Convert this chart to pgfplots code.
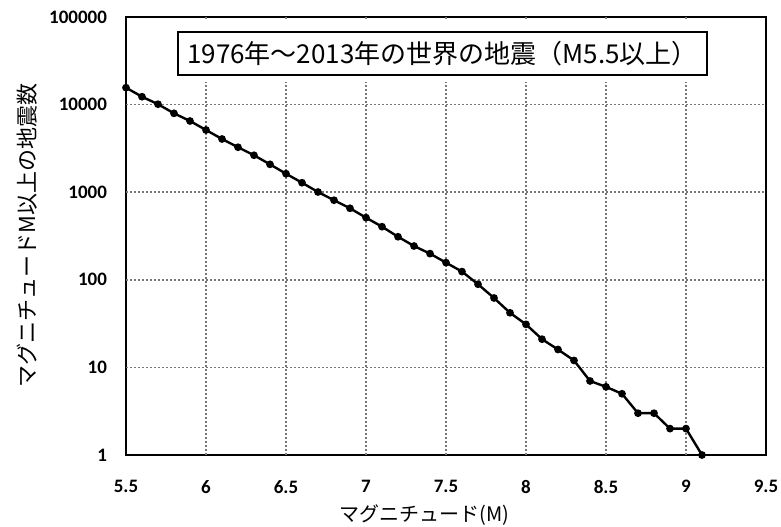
\documentclass[border=0pt]{standalone}
\usepackage{fontspec}
\setmainfont{Carlito}
\newfontfamily\jp{Noto Sans CJK JP}
\usepackage{pgfplots}
\pgfplotsset{compat=1.18}
\definecolor{gridc}{RGB}{120,120,120}
\tikzset{mygrid/.style={draw=gridc, dash pattern=on 1pt off 1pt, line width=0.8pt}}
\begin{document}
\begin{tikzpicture}
\begin{axis}[name=ax,
  scale only axis, width=320pt, height=219pt,
  xmin=5.5, xmax=9.5, ymode=log, log basis y=10, ymin=1, ymax=100000,
  xtick={5.5,6,6.5,7,7.5,8,8.5,9,9.5},
  xticklabels={5.5,6,6.5,7,7.5,8,8.5,9,9.5},
  ytick={1,10,100,1000,10000,100000},
  yticklabels={1,10,100,1000,10000,100000},
  xtick style={draw=none}, ytick style={draw=none},
  tick label style={font=\fontsize{9.5}{11}\selectfont\bfseries},
  xticklabel style={yshift=-9pt},
  yticklabel style={xshift=-6pt},
  axis line style={black, line width=1pt},
  xlabel={マグニチュード(M)},
  ylabel={マグニチュードM以上の地震数},
  xlabel style={font=\jp\fontsize{10}{12}\selectfont, at={(rel axis cs:0.467,0)}, anchor=center, yshift=-30pt},
  ylabel style={font=\jp\fontsize{11}{13}\selectfont, at={(rel axis cs:0,0.502)}, anchor=center, yshift=49.5pt},
  clip=false,
]
\draw[mygrid] (axis cs:6,1) -- (axis cs:6,100000);
\draw[mygrid] (axis cs:6.5,1) -- (axis cs:6.5,100000);
\draw[mygrid] (axis cs:7,1) -- (axis cs:7,100000);
\draw[mygrid] (axis cs:7.5,1) -- (axis cs:7.5,100000);
\draw[mygrid] (axis cs:8,1) -- (axis cs:8,100000);
\draw[mygrid] (axis cs:8.5,1) -- (axis cs:8.5,100000);
\draw[mygrid] (axis cs:9,1) -- (axis cs:9,100000);
\draw[mygrid] (axis cs:5.5,10) -- (axis cs:9.5,10);
\draw[mygrid] (axis cs:5.5,100) -- (axis cs:9.5,100);
\draw[mygrid] (axis cs:5.5,1000) -- (axis cs:9.5,1000);
\draw[mygrid] (axis cs:5.5,10000) -- (axis cs:9.5,10000);
\node[fill=white, draw=none, minimum width=271pt, minimum height=31.75pt, inner sep=0pt] at (rel axis cs:0.495,0.924) {};
\addplot[black, line width=1.2pt, mark=*, mark size=1.3pt, mark options={solid, fill=black}] coordinates {
(5.5,15600) (5.6,12300) (5.7,10100) (5.8,7950) (5.9,6500) (6.0,5130)
(6.1,4050) (6.2,3260) (6.3,2640) (6.4,2080) (6.5,1625) (6.6,1283)
(6.7,1005) (6.8,810) (6.9,655) (7.0,512) (7.1,404) (7.2,310)
(7.3,243) (7.4,199) (7.5,157) (7.6,124) (7.7,89) (7.8,62)
(7.9,42) (8.0,31) (8.1,21) (8.2,16) (8.3,12) (8.4,7)
(8.5,6) (8.6,5) (8.7,3) (8.8,3) (8.9,2) (9.0,2) (9.1,1)
};
\node[draw=black, line width=0.8pt, fill=white, minimum width=264.5pt, minimum height=21.5pt, inner sep=0pt, font=\jp\fontsize{13}{15}\selectfont] at (rel axis cs:0.4945,0.9167) {1976年～2013年の世界の地震（M5.5以上）};
\end{axis}
\pgfresetboundingbox
\path[use as bounding box] ([shift={(-63pt,-36pt)}]ax.south west) rectangle ([shift={(7.5pt,8.5pt)}]ax.north east);
\end{tikzpicture}
\end{document}
